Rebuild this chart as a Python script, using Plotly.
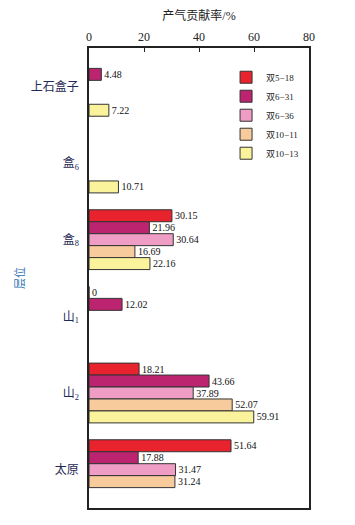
import plotly.graph_objects as go

categories = ["上石盒子", "盒6", "盒8", "山1", "山2", "太原"]
tick_labels = ["上石盒子", "盒<sub>6</sub>", "盒<sub>8</sub>", "山<sub>1</sub>", "山<sub>2</sub>", "太原"]
series_names = ["双5−18", "双6−31", "双6−36", "双10−11", "双10−13"]
s_5_18 = [None, None, 30.15, 0, 18.21, 51.64]
s_6_31 = [4.48, None, 21.96, 12.02, 43.66, 17.88]
s_6_36 = [None, None, 30.64, None, 37.89, 31.47]
s_10_11 = [None, None, 16.69, None, 52.07, 31.24]
s_10_13 = [7.22, 10.71, 22.16, None, 59.91, None]
series_values = [s_5_18, s_6_31, s_6_36, s_10_11, s_10_13]
colors = ["#E8232E", "#BC2470", "#EF9DC4", "#F8CB9C", "#FAF39C"]

FONT = "Liberation Serif, Noto Sans CJK SC, serif"

fig = go.Figure()
for name, vals, col in zip(series_names, series_values, colors):
    fig.add_trace(go.Bar(
        y=categories, x=vals, name=name, orientation="h",
        marker=dict(color=col, line=dict(color="#333333", width=1)),
        text=[("" if v is None else ("0" if v == 0 else f"{v:.2f}")) for v in vals],
        textposition="outside", cliponaxis=False,
        textfont=dict(size=10, color="#111111", family=FONT),
    ))

fig.update_layout(
    barmode="group", bargap=0.22, bargroupgap=0,
    width=347, height=517,
    margin=dict(l=81, r=46, t=40, b=17),
    paper_bgcolor="white", plot_bgcolor="white",
    font=dict(family=FONT, size=12, color="#222222"),
    legend=dict(x=0.623, y=0.968, xanchor="left", yanchor="top",
                font=dict(size=9, family=FONT), bgcolor="rgba(0,0,0,0)",
                tracegroupgap=0, itemwidth=30),
    xaxis=dict(side="top", range=[0, 80], tickvals=[0, 20, 40, 60, 80],
               ticks="inside", ticklen=4, tickcolor="#222222",
               showline=True, linecolor="#222222", linewidth=1.5, mirror=True,
               showgrid=False, zeroline=False, automargin=False,
               tickfont=dict(size=12, family=FONT),
               title=dict(text="产气贡献率/%", font=dict(size=12, family=FONT), standoff=8)),
    yaxis=dict(autorange="reversed", tickvals=categories, ticktext=tick_labels,
               showline=True, linecolor="#222222", linewidth=1.5, mirror=True,
               showgrid=False, ticks="outside", ticklen=6, tickcolor="rgba(0,0,0,0)",
               automargin=False, tickfont=dict(size=12, family=FONT, color="#1f2a55"),
               title=dict(text="层位", font=dict(size=11, color="#2a6fb5", family=FONT), standoff=4)),
)

fig.write_html("out.html")
